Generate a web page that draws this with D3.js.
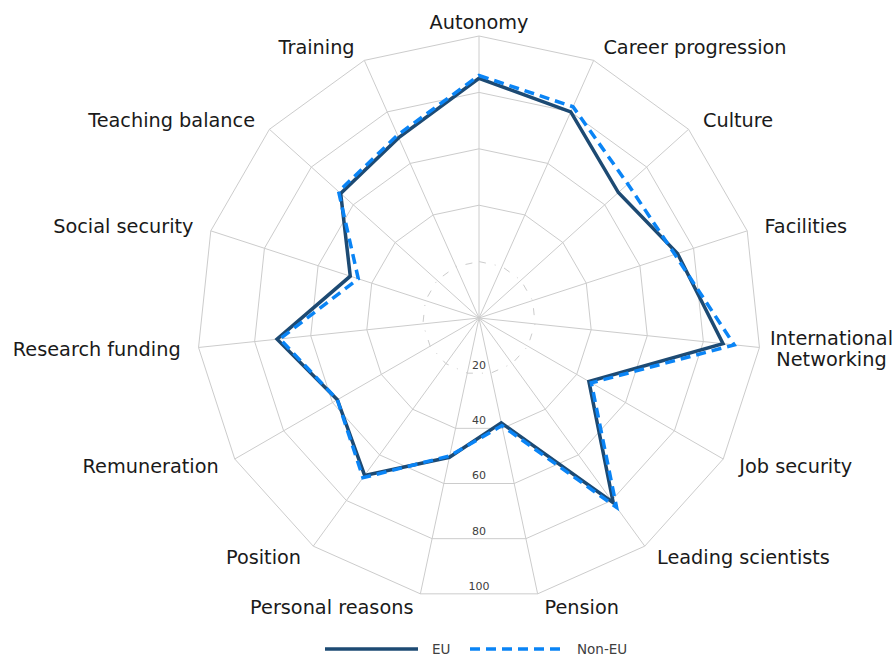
<!DOCTYPE html>
<html>
<head>
<meta charset="utf-8">
<script src="https://cdn.jsdelivr.net/npm/d3@7"></script>
<style>
    body { margin: 0; background: #fff; }
    svg { display: block; font-family: "DejaVu Sans", sans-serif; }
</style>
</head>
<body>
<div id="chart"></div>
<script>
// Reasons for choosing a position, EU vs Non-EU respondents (percent)
const categories = [
    "Autonomy", "Career progression", "Culture", "Facilities",
    "International Networking", "Job security", "Leading scientists",
    "Pension", "Personal reasons", "Position", "Remuneration",
    "Research funding", "Social security", "Teaching balance", "Training"
];
const euValues = [85, 80, 66.5, 74, 87, 45, 81, 38, 50.5, 69, 58, 72, 48, 66, 70];
const nonEuValues = [86, 82, 71, 73, 91, 46, 83, 39, 50, 70, 58, 71, 45, 67, 71];
const tickValues = [20, 40, 60, 80, 100];

const series = [
    { name: "EU", values: euValues, color: "#1d4a73", dash: null },
    { name: "Non-EU", values: nonEuValues, color: "#0a84f5", dash: "10,6" }
];

const width = 896;
const height = 658;
const cx = 479;
const cy = 318;
const outer = 282;
const step = 2 * Math.PI / categories.length;

const r = d3.scaleLinear().domain([0, 100]).range([0, outer]);

const svg = d3.select("#chart")
    .append("svg")
    .attr("width", width)
    .attr("height", height);

const g = svg.append("g").attr("transform", `translate(${cx},${cy})`);

const ring = d3.lineRadial()
    .angle((_, i) => i * step)
    .radius(d => r(d))
    .curve(d3.curveLinearClosed);

// rings
g.append("g")
    .selectAll("path")
    .data(tickValues)
    .join("path")
    .attr("d", t => ring(categories.map(() => t)))
    .attr("fill", "none")
    .attr("stroke", "#cccccc")
    .attr("stroke-width", 1)
    .attr("stroke-dasharray", t => t === 20 ? "7,9,1,9" : null);

// spokes
g.append("g")
    .selectAll("line")
    .data(categories)
    .join("line")
    .attr("x1", 0)
    .attr("y1", 0)
    .attr("x2", (_, i) => r(100) * Math.sin(i * step))
    .attr("y2", (_, i) => -r(100) * Math.cos(i * step))
    .attr("stroke", "#cccccc")
    .attr("stroke-width", 1);

// tick labels, straight down between the two bottom spokes
g.append("g")
    .selectAll("text")
    .data(tickValues)
    .join("text")
    .attr("x", 0)
    .attr("y", t => r(t) * Math.cos(step / 2) - 8)
    .attr("dy", "0.35em")
    .attr("text-anchor", "middle")
    .attr("font-size", 11)
    .attr("fill", "#404040")
    .text(t => t);

// category labels
const pad = 14;
const labels = g.append("g")
    .selectAll("text")
    .data(categories)
    .join("text")
    .attr("font-size", 19.3)
    .attr("fill", "#1a1a1a")
    .attr("text-anchor", "middle");

labels.each(function (name, i) {
    const a = i * step;
    const s = Math.sin(a);
    const side = s > 0.05 ? 1 : s < -0.05 ? -1 : 0;
    const ax = (outer + pad) * s + side * 4;
    const ay = -(outer + pad) * Math.cos(a);
    const lines = name.length > 20 ? name.split(" ") : [name];
    const text = d3.select(this);
    const spans = text.selectAll("tspan")
        .data(lines)
        .join("tspan")
        .text(d => d);
    const maxW = d3.max(spans.nodes(), n => n.getComputedTextLength());
    // keep the block inside the picture
    const x = Math.max(-cx + 3 + maxW / 2,
        Math.min(width - cx - 3 - maxW / 2, ax + side * maxW / 2));
    const lh = 21;
    spans
        .attr("x", x)
        .attr("y", (_, k) => ay + (k - (lines.length - 1) / 2) * lh)
        .attr("dy", "0.35em");
});

// series
const area = d3.lineRadial()
    .angle((_, i) => i * step)
    .radius(d => r(d))
    .curve(d3.curveLinearClosed);

g.append("g")
    .selectAll("path")
    .data(series)
    .join("path")
    .attr("d", d => area(d.values))
    .attr("fill", "none")
    .attr("stroke", d => d.color)
    .attr("stroke-width", 3.5)
    .attr("stroke-linejoin", "miter")
    .attr("stroke-dasharray", d => d.dash);

// legend
const legend = svg.append("g").attr("transform", "translate(325,649)");
const legendItems = legend.selectAll("g")
    .data(series)
    .join("g")
    .attr("transform", (_, i) => `translate(${i * 145},0)`);

legendItems.append("line")
    .attr("x1", 0)
    .attr("x2", 93)
    .attr("y1", 0)
    .attr("y2", 0)
    .attr("stroke", d => d.color)
    .attr("stroke-width", 3.5)
    .attr("stroke-dasharray", d => d.dash);

legendItems.append("text")
    .attr("x", 107)
    .attr("y", 0)
    .attr("dy", "0.35em")
    .attr("font-size", 13.5)
    .attr("fill", "#404040")
    .text(d => d.name);
</script>
</body>
</html>
